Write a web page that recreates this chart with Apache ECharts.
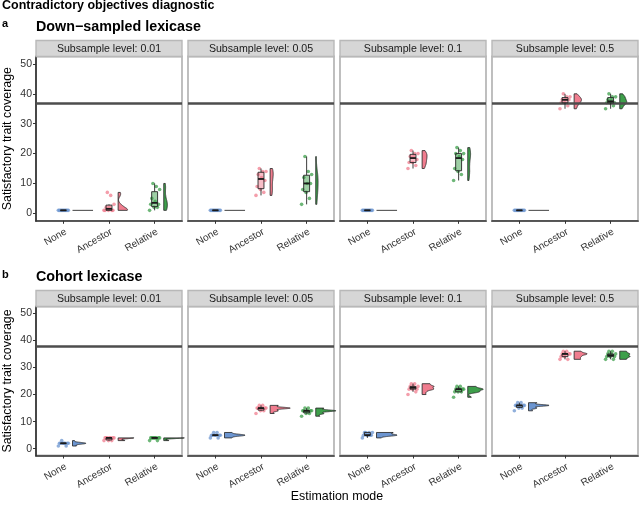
<!DOCTYPE html>
<html><head><meta charset="utf-8">
<script src="https://cdn.jsdelivr.net/npm/echarts@6/dist/echarts.min.js"></script>
<style>html,body{margin:0;padding:0;background:#fff}#c{width:640px;height:506px}</style>
</head><body><div id="c"></div>
<script>
// ---------------- DATA ----------------
const estimationModes = ['None', 'Ancestor', 'Relative'];
const subsampleLevels = ['0.01', '0.05', '0.1', '0.5'];
const schemeTitles = ['Down\u2212sampled lexicase', 'Cohort lexicase'];
const panelTags = ['a', 'b'];
const yTickValues = [0, 10, 20, 30, 40, 50];
const targetCoverage = [37, 38];

// Down-sampled lexicase, one list per subsample level (0.01, 0.05, 0.1, 0.5)
const downSampledNone = [
  [1, 1, 1, 1, 1, 1, 1, 1, 1, 1],
  [1, 1, 1, 1, 1, 1, 1, 1, 1, 1],
  [1, 1, 1, 1, 1, 1, 1, 1, 1, 1],
  [1, 1, 1, 1, 1, 1, 1, 1, 1, 1]
];
const downSampledAncestor = [
  [1, 1, 1, 1, 1, 2, 2, 3, 6, 7],
  [6, 7, 8, 9, 11, 12, 13, 14, 14, 15],
  [15, 16, 17, 17, 18, 19, 19, 20, 20, 21],
  [35, 36, 37, 37, 38, 38, 38, 39, 39, 40]
];
const downSampledRelative = [
  [1, 2, 2, 3, 3, 4, 5, 8, 9, 10],
  [3, 5, 7, 8, 10, 10, 12, 13, 14, 19],
  [11, 13, 14, 15, 18, 19, 20, 20, 21, 22],
  [35, 36, 37, 37, 37, 38, 38, 39, 39, 40]
];
// Cohort lexicase
const cohortNone = [
  [1, 1, 2, 2, 2, 2, 2, 2, 2, 3],
  [4, 4, 5, 5, 5, 5, 5, 5, 6, 6],
  [4, 5, 5, 5, 5, 5, 6, 6, 6, 6],
  [14, 15, 15, 16, 16, 16, 16, 16, 17, 17]
];
const cohortAncestor = [
  [3, 3, 3, 4, 4, 4, 4, 4, 4, 4],
  [13, 14, 14, 15, 15, 15, 15, 15, 16, 16],
  [20, 21, 22, 22, 22, 23, 23, 23, 24, 24],
  [33, 33, 34, 34, 35, 35, 35, 35, 36, 36]
];
const cohortRelative = [
  [3, 3, 4, 4, 4, 4, 4, 4, 4, 4],
  [12, 13, 13, 14, 14, 14, 14, 14, 15, 15],
  [19, 21, 21, 21, 22, 22, 22, 22, 23, 23],
  [33, 33, 34, 34, 34, 35, 35, 35, 36, 36]
];
const coverageBySchemeAndMode = [
  [downSampledNone, downSampledAncestor, downSampledRelative],
  [cohortNone, cohortAncestor, cohortRelative]
];

// ---------------- STYLE / LAYOUT ----------------
const FONT = 'Liberation Sans, Arial, Helvetica, sans-serif';
const modeColors = ['#6C95D0', '#F07D8F', '#3E9F4B'];
const gridLefts = [36, 188, 340, 492];
const gridWidth = 146;
const rowTops = [56.5, 306.5];
const rowHeights = [164.3, 149];
const X_MIN = 0.4, X_MAX = 3.6, Y_MIN = -2.5, Y_MAX = 52.5;
const VIOLIN_NUDGE = 0.2, VIOLIN_HALF = 0.45, BOX_HALF = 0.065, JITTER_W = 0.11;

// ---------------- STATS ----------------
function quantile(s, p) {
  const h = (s.length - 1) * p, lo = Math.floor(h), hi = Math.min(lo + 1, s.length - 1);
  return s[lo] + (h - lo) * (s[hi] - s[lo]);
}
function stdev(a) {
  const m = a.reduce((x, y) => x + y, 0) / a.length;
  return Math.sqrt(a.reduce((t, x) => t + (x - m) * (x - m), 0) / (a.length - 1));
}
function boxStats(values) {
  const s = values.slice().sort((a, b) => a - b);
  const q1 = quantile(s, 0.25), med = quantile(s, 0.5), q3 = quantile(s, 0.75);
  const iqr = q3 - q1;
  const lowW = Math.min(...s.filter(v => v >= q1 - 1.5 * iqr));
  const upW = Math.max(...s.filter(v => v <= q3 + 1.5 * iqr));
  return { q1, med, q3, lowW, upW };
}
function densityProfile(values) {
  const s = values.slice().sort((a, b) => a - b);
  const n = s.length, sd = stdev(s);
  let lo = Math.min(sd, (quantile(s, 0.75) - quantile(s, 0.25)) / 1.34);
  if (!lo) lo = sd || Math.abs(s[0]) || 1;
  const bw = 0.9 * lo * Math.pow(n, -0.2);
  const mn = s[0], mx = s[n - 1];
  const steps = mn === mx ? 1 : 256;
  const ys = [], ds = [];
  for (let j = 0; j < steps; j++) {
    const y = steps === 1 ? mn : mn + (mx - mn) * j / (steps - 1);
    let d = 0;
    for (const v of s) { const z = (y - v) / bw; d += Math.exp(-0.5 * z * z); }
    ys.push(y); ds.push(d / (n * bw * Math.sqrt(2 * Math.PI)));
  }
  return { ys, ds, flat: mn === mx };
}
function jitter(i) { return (((i * 7) % 10) - 4.5) / 4.5 * JITTER_W; }

// ---------------- BUILD ----------------
const grids = [], xAxes = [], yAxes = [], series = [], graphics = [];
let gi = 0;
for (let r = 0; r < 2; r++) {
  for (let c = 0; c < 4; c++) {
    const groups = estimationModes.map((m, k) => coverageBySchemeAndMode[r][k][c]);
    const profiles = groups.map(densityProfile);
    const boxes = groups.map(boxStats);
    const maxD = Math.max(...profiles.map(p => Math.max(...p.ds)));

    grids.push({ left: gridLefts[c], top: rowTops[r], width: gridWidth, height: rowHeights[r],
      show: true, borderColor: '#b8b8b8', borderWidth: 1.8, backgroundColor: '#fff', containLabel: false });
    xAxes.push({ gridIndex: gi, type: 'value', min: X_MIN, max: X_MAX,
      axisLine: { show: true, onZero: false, lineStyle: { color: '#333', width: 1.7 } },
      axisTick: { show: true, customValues: [1, 2, 3], length: 3, lineStyle: { color: '#333', width: 1 } },
      axisLabel: { show: true, customValues: [1, 2, 3], formatter: v => estimationModes[Math.round(v) - 1],
        rotate: 30, align: 'right', verticalAlign: 'top', margin: 6, fontSize: 10, color: '#333', fontFamily: FONT },
      splitLine: { show: false } });
    yAxes.push({ gridIndex: gi, type: 'value', min: Y_MIN, max: Y_MAX,
      axisLine: { show: c === 0, onZero: false, lineStyle: { color: '#333', width: 1.7 } },
      axisTick: { show: c === 0, customValues: yTickValues, length: 3, lineStyle: { color: '#333', width: 1 } },
      axisLabel: { show: c === 0, customValues: yTickValues, margin: 4, fontSize: 10.5, color: '#333', fontFamily: FONT },
      splitLine: { show: false } });

    // reference line
    series.push({ type: 'line', xAxisIndex: gi, yAxisIndex: gi, data: [], z: 1, silent: true,
      markLine: { silent: true, symbol: ['none', 'none'], label: { show: false }, animation: false,
        lineStyle: { color: '#4d4d4d', width: 2.6, type: 'solid' }, data: [{ yAxis: targetCoverage[r] }] } });

    // half violins
    series.push({ type: 'custom', xAxisIndex: gi, yAxisIndex: gi, z: 3, silent: true,
      data: groups.map((g, k) => [k + 1, Math.min(...g), Math.max(...g)]),
      renderItem: (function (profiles, maxD) {
        return function (params, api) {
          const k = params.dataIndex, p = profiles[k], x0 = k + 1 + VIOLIN_NUDGE;
          if (p.flat) {
            const a = api.coord([x0, p.ys[0]]), b = api.coord([x0 + VIOLIN_HALF * p.ds[0] / maxD, p.ys[0]]);
            return { type: 'line', shape: { x1: a[0], y1: a[1], x2: b[0], y2: b[1] },
              style: { stroke: '#2b2b2b', lineWidth: 0.9 } };
          }
          const pts = [api.coord([x0, p.ys[0]]), api.coord([x0, p.ys[p.ys.length - 1]])];
          for (let j = p.ys.length - 1; j >= 0; j--) pts.push(api.coord([x0 + VIOLIN_HALF * p.ds[j] / maxD, p.ys[j]]));
          return { type: 'polygon', shape: { points: pts },
            style: { fill: modeColors[k], opacity: 1, stroke: '#2b2b2b', lineWidth: 0.85 } };
        };
      })(profiles, maxD) });

    // jittered points
    const pts = [];
    groups.forEach((g, k) => g.forEach((v, i) => pts.push({ value: [k + 1 + jitter(i), v],
      itemStyle: { color: modeColors[k], opacity: 0.75 } })));
    series.push({ type: 'scatter', xAxisIndex: gi, yAxisIndex: gi, z: 4, symbolSize: 3.6, silent: true, data: pts });

    // boxplots
    series.push({ type: 'custom', xAxisIndex: gi, yAxisIndex: gi, z: 5, silent: true,
      data: boxes.map((b, k) => [k + 1, b.lowW, b.upW]),
      renderItem: (function (boxes) {
        return function (params, api) {
          const k = params.dataIndex, b = boxes[k], x = k + 1;
          const l = api.coord([x - BOX_HALF, b.q3]), rr = api.coord([x + BOX_HALF, b.q1]);
          const m1 = api.coord([x - BOX_HALF, b.med]), m2 = api.coord([x + BOX_HALF, b.med]);
          const wu = api.coord([x, b.upW]), wq3 = api.coord([x, b.q3]);
          const wl = api.coord([x, b.lowW]), wq1 = api.coord([x, b.q1]);
          const st = { stroke: '#262626', lineWidth: 0.9 };
          return { type: 'group', children: [
            { type: 'line', shape: { x1: wu[0], y1: wu[1], x2: wq3[0], y2: wq3[1] }, style: st },
            { type: 'line', shape: { x1: wl[0], y1: wl[1], x2: wq1[0], y2: wq1[1] }, style: st },
            { type: 'rect', shape: { x: l[0], y: l[1], width: rr[0] - l[0], height: rr[1] - l[1] },
              style: { fill: echarts.color.modifyAlpha(modeColors[k], 0.5), stroke: '#262626', lineWidth: 0.9 } },
            { type: 'line', shape: { x1: m1[0], y1: m1[1], x2: m2[0], y2: m2[1] }, style: { stroke: '#1a1a1a', lineWidth: 1.8 } }
          ] };
        };
      })(boxes) });

    // strip
    const stripTop = rowTops[r] - 16;
    graphics.push({ type: 'rect', shape: { x: gridLefts[c], y: stripTop, width: gridWidth, height: 16 },
      style: { fill: '#d6d6d6', stroke: '#b8b8b8', lineWidth: 1.4 }, z: 10 });
    graphics.push({ type: 'text', x: gridLefts[c] + gridWidth / 2, y: stripTop + 8.3, z: 11,
      style: { text: 'Subsample level: ' + subsampleLevels[c], font: '10.6px ' + FONT, fill: '#1a1a1a',
        textAlign: 'center', textVerticalAlign: 'middle', align: 'center', verticalAlign: 'middle' } });
    gi++;
  }
}

function txt(x, y, text, font, align, extra) {
  return Object.assign({ type: 'text', x, y, z: 12,
    style: { text, font, fill: '#000', textAlign: align || 'left', align: align || 'left',
      textVerticalAlign: 'middle', verticalAlign: 'middle' } }, extra || {});
}
graphics.push(txt(2, 5.5, 'Contradictory objectives diagnostic', 'bold 12.5px ' + FONT));
graphics.push(txt(2, 24, panelTags[0], 'bold 11px ' + FONT));
graphics.push(txt(36, 27, schemeTitles[0], 'bold 14.3px ' + FONT));
graphics.push(txt(2, 274.5, panelTags[1], 'bold 11px ' + FONT));
graphics.push(txt(36, 277, schemeTitles[1], 'bold 14.3px ' + FONT));
for (let r = 0; r < 2; r++) {
  graphics.push(txt(8, rowTops[r] + rowHeights[r] / 2, 'Satisfactory trait coverage', '12.4px ' + FONT, 'center',
    { rotation: Math.PI / 2 }));
}
graphics.push(txt(337, 497, 'Estimation mode', '12.4px ' + FONT, 'center'));

const chart = echarts.init(document.getElementById('c'), null, { renderer: 'canvas' });
chart.setOption({ animation: false, backgroundColor: '#fff', grid: grids, xAxis: xAxes, yAxis: yAxes,
  series, graphic: { elements: graphics } });
</script></body></html>
